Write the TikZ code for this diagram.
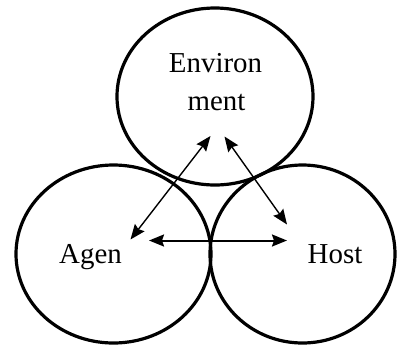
\documentclass[tikz,border=0pt]{standalone}
\usepackage{fontspec}
\setmainfont{Liberation Serif}
\usetikzlibrary{shapes.geometric,arrows.meta}
\begin{document}
\begin{tikzpicture}[x=1bp,y=-1bp,
  ring/.style={draw, ellipse, line width=3.2bp, inner sep=0pt, outer sep=0pt},
  label/.style={anchor=base, inner sep=0pt, font=\fontsize{29}{38}\selectfont},
  link/.style={line width=1.4bp,
    {Stealth[length=15bp,width=12bp,inset=2bp]}-{Stealth[length=15bp,width=12bp,inset=2bp]}},
  mainlink/.style={link, line width=2bp}]
  \useasboundingbox (0,0) rectangle (398,346);
  % the three overlapping circles
  \node[ring, minimum width=196bp, minimum height=177bp] (env)   at (215,96.5) {};
  \node[ring, minimum width=195bp, minimum height=178bp] (agent) at (113.5,254) {};
  \node[ring, minimum width=185bp, minimum height=178bp] (host)  at (302.5,254) {};
  % labels
  \node[label] (envA) at (215.5,72) {Environ};
  \node[label] (envB) at (216.5,110) {ment};
  \node[label] (agen) at (90.5,263) {Agen};
  \node[label] (hst)  at (335,263) {Host};
  % arrow end points
  \coordinate (eL) at (210.5,136);
  \coordinate (eR) at (224.5,136.5);
  \coordinate (aU) at (130.5,239.5);
  \coordinate (aR) at (149,240.5);
  \coordinate (hU) at (287,224.5);
  \coordinate (hL) at (287,240.5);
  % relations
  \draw[link] (aU) -- (eL);
  \draw[link] (eR) -- (hU);
  \draw[mainlink] (aR) -- (hL);
\end{tikzpicture}
\end{document}
